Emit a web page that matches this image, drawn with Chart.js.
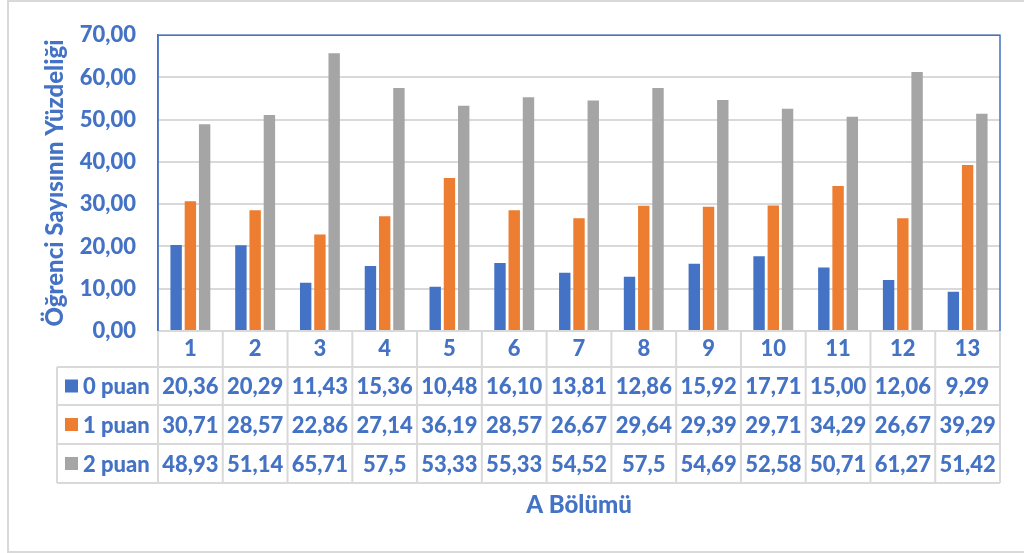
<!DOCTYPE html>
<html>
<head>
<meta charset="utf-8">
<script src="https://cdn.jsdelivr.net/npm/chart.js"></script>
<style>
  html, body { margin: 0; padding: 0; background: #fff; }
  #wrap { position: relative; width: 1024px; height: 553px; }
</style>
</head>
<body>
<div id="wrap"><canvas id="grafik" width="1024" height="553"></canvas></div>
<script>
// veriler
var bolumler = ['1', '2', '3', '4', '5', '6', '7', '8', '9', '10', '11', '12', '13'];
var puan0 = ['20,36', '20,29', '11,43', '15,36', '10,48', '16,10', '13,81', '12,86', '15,92', '17,71', '15,00', '12,06', '9,29'];
var puan1 = ['30,71', '28,57', '22,86', '27,14', '36,19', '28,57', '26,67', '29,64', '29,39', '29,71', '34,29', '26,67', '39,29'];
var puan2 = ['48,93', '51,14', '65,71', '57,5', '53,33', '55,33', '54,52', '57,5', '54,69', '52,58', '50,71', '61,27', '51,42'];
var seriAdlari = ['0 puan', '1 puan', '2 puan'];
var renkler = ['#4472C4', '#ED7D31', '#A5A5A5'];

var MAVI = '#4472C4';
var IZGARA = '#d9d9d9';
var YAZI = '900 22px Lato, "DejaVu Sans", sans-serif';

function sayi(s) { return parseFloat(s.replace(',', '.')); }

var seriler = [puan0, puan1, puan2];

// tablo + cerceve cizimi
var tabloEklentisi = {
  id: 'tablo',
  beforeDraw: function(chart) {
    var ctx = chart.ctx;
    ctx.save();
    ctx.strokeStyle = IZGARA;
    ctx.lineWidth = 2;
    ctx.strokeRect(8, 1, 1040, 551);
    ctx.restore();
  },
  afterDraw: function(chart) {
    var ctx = chart.ctx, x = chart.scales.x, a = chart.chartArea;
    var w = (x.right - x.left) / bolumler.length;
    var y0 = a.bottom;
    var satirlar = [y0, y0 + 36, y0 + 74, y0 + 113, y0 + 152];
    var solX = 57;

    ctx.save();
    ctx.strokeStyle = IZGARA;
    ctx.lineWidth = 2;
    ctx.beginPath();
    ctx.moveTo(x.left, satirlar[0]); ctx.lineTo(x.right, satirlar[0]);
    for (var r = 1; r < satirlar.length; r++) {
      ctx.moveTo(solX, satirlar[r]); ctx.lineTo(x.right, satirlar[r]);
    }
    for (var i = 0; i <= bolumler.length; i++) {
      var vx = x.left + i * w;
      ctx.moveTo(vx, satirlar[0]); ctx.lineTo(vx, satirlar[4]);
    }
    ctx.moveTo(solX, satirlar[1]); ctx.lineTo(solX, satirlar[4]);
    ctx.stroke();

    // cizim alani ust ve sag kenar
    ctx.strokeStyle = MAVI;
    ctx.lineWidth = 1.5;
    ctx.beginPath();
    ctx.moveTo(a.left, a.bottom); ctx.lineTo(a.left, a.top);
    ctx.lineTo(a.right, a.top); ctx.lineTo(a.right, a.bottom);
    ctx.stroke();

    ctx.font = YAZI;
    ctx.fillStyle = MAVI;
    ctx.textBaseline = 'middle';
    for (var s = 0; s < seriler.length; s++) {
      var my = (satirlar[s + 1] + satirlar[s + 2]) / 2;
      ctx.fillStyle = renkler[s];
      ctx.fillRect(65, my - 6.5, 13, 13);
      ctx.fillStyle = MAVI;
      ctx.textAlign = 'left';
      ctx.fillText(seriAdlari[s], 83, my + 1);
      ctx.textAlign = 'center';
      for (var k = 0; k < bolumler.length; k++) {
        ctx.fillText(seriler[s][k], x.getPixelForTick(k), my + 1);
      }
    }
    ctx.restore();
  }
};

var grafik = new Chart(document.getElementById('grafik'), {
  type: 'bar',
  data: {
    labels: bolumler,
    datasets: seriler.map(function(seri, i) {
      return {
        label: seriAdlari[i],
        data: seri.map(sayi),
        backgroundColor: renkler[i],
        categoryPercentage: 0.66,
        barPercentage: 0.8
      };
    })
  },
  options: {
    responsive: false,
    devicePixelRatio: 1,
    animation: false,
    layout: { padding: { left: 38, top: 30, right: 24, bottom: 0 } },
    plugins: {
      legend: { display: false },
      tooltip: { enabled: false }
    },
    scales: {
      x: {
        grid: { display: false, drawTicks: false },
        border: { display: false },
        ticks: {
          color: MAVI,
          font: { family: 'Lato', size: 22, weight: '900' },
          padding: 5,
          maxRotation: 0
        },
        title: {
          display: true,
          text: 'A Bölümü',
          color: MAVI,
          font: { family: 'Lato', size: 24, weight: '900' },
          padding: { top: 0, bottom: 33 }
        },
        afterFit: function(scale) { scale.height = 222; }
      },
      y: {
        min: 0,
        max: 70,
        ticks: {
          stepSize: 10,
          color: MAVI,
          padding: 22,
          font: { family: 'Lato', size: 22, weight: '900' },
          callback: function(v) { return v.toFixed(2).replace('.', ','); }
        },
        grid: { color: IZGARA, lineWidth: 2, drawTicks: false },
        border: { color: MAVI, width: 1.5 },
        title: {
          display: true,
          text: 'Öğrenci Sayısının Yüzdeliği',
          color: MAVI,
          font: { family: 'Lato', size: 24, weight: '900' },
          padding: { top: 3, bottom: 0 }
        },
        afterFit: function(scale) { scale.width = 120; }
      }
    }
  },
  plugins: [tabloEklentisi]
});
</script>
</body>
</html>
